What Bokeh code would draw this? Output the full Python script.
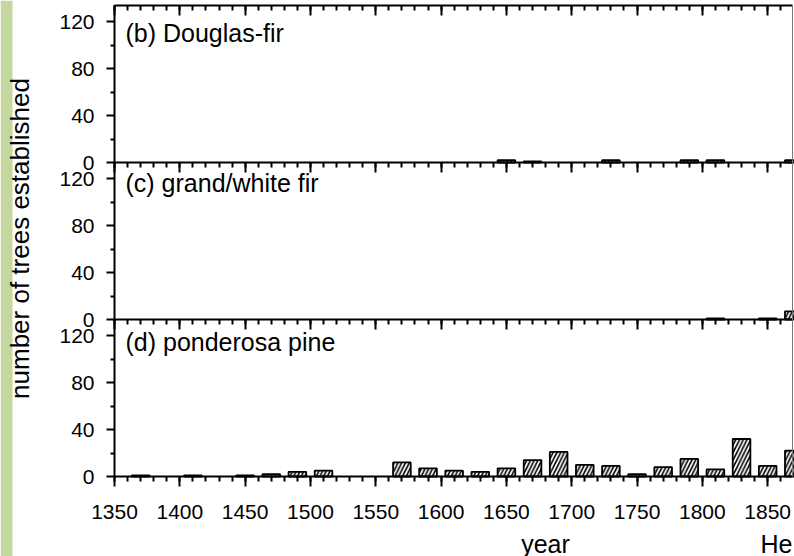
import math
from bokeh.plotting import figure
from bokeh.models import (Range1d, FixedTicker, LinearAxis, Label, BoxAnnotation,
                          CustomJSTickFormatter, GlobalInlineStyleSheet)
from bokeh.embed import file_html
from bokeh.resources import INLINE

# ---------------- data ----------------
years_b = [1650, 1670, 1730, 1790, 1810, 1870]
counts_b = [2, 1, 2, 2, 2, 2]

years_c = [1810, 1850, 1870]
counts_c = [1, 1, 7]

years_d = [1370, 1410, 1450, 1470, 1490, 1510, 1570, 1590, 1610, 1630,
           1650, 1670, 1690, 1710, 1730, 1750, 1770, 1790, 1810, 1830,
           1850, 1870]
counts_d = [1, 1, 1, 2, 4, 5, 12, 7, 5, 4,
            7, 14, 21, 10, 9, 2, 8, 15, 6, 32,
            9, 22]

panel_titles = ["(b) Douglas-fir", "(c) grand/white fir", "(d) ponderosa pine"]
x_major_ticks = list(range(1350, 1851, 50))
x_minor_ticks = list(range(1350, 1870, 10))
y_major_ticks = [0, 40, 80, 120]
y_minor_ticks = [20, 60, 100]
panel_span = 134
x_start, x_end = 1350, 1869
bar_width = 13.5

FONT = "Liberation Sans"
GREEN = "#c4d79e"

# ---------------- layout geometry (pixels) ----------------
W, H = 794, 556
plot_left, plot_right, plot_top, plot_bottom = 114, 792, 5, 476
sx = (plot_right - plot_left) / (x_end - x_start)
sy = (plot_bottom - plot_top) / (3 * panel_span)

p = figure(width=W, height=H,
           x_range=Range1d(x_start - plot_left / sx, x_end + (W - plot_right) / sx),
           y_range=Range1d(-(H - plot_bottom) / sy, 3 * panel_span + plot_top / sy),
           x_axis_type=None, y_axis_type=None,
           output_backend="svg", toolbar_location=None,
           min_border=0, min_border_left=0, min_border_right=0,
           min_border_top=0, min_border_bottom=0)
p.background_fill_color = "white"
p.border_fill_color = "white"
p.outline_line_color = None

# green strip at the left edge
p.add_layout(BoxAnnotation(left=0, right=12, left_units="screen", right_units="screen",
                           fill_color=GREEN, fill_alpha=1.0, line_color=None,
                           level="underlay"))

series = [(years_b, counts_b, 2), (years_c, counts_c, 1), (years_d, counts_d, 0)]
for yrs, cnts, k in series:
    off = k * panel_span
    p.vbar(x=yrs, width=bar_width,
           bottom=[off] * len(yrs), top=[off + c for c in cnts],
           fill_color="white", line_color="black", line_width=1.8,
           hatch_pattern="/", hatch_color="black", hatch_weight=1.6,
           hatch_scale=7.5)

# left axis spanning the three panels
yt, ym = [], []
for k in range(3):
    yt += [k * panel_span + t for t in y_major_ticks]
    ym += [k * panel_span + t for t in y_minor_ticks]
yaxis = LinearAxis(ticker=FixedTicker(ticks=yt, minor_ticks=ym),
                   formatter=CustomJSTickFormatter(args=dict(span=panel_span),
                                                   code="return String(Math.round(tick % span));"),
                   fixed_location=x_start, bounds=(0, 3 * panel_span),
                   major_label_text_font=FONT, major_label_text_font_size="21px",
                   major_label_text_color="black", major_label_standoff=12,
                   axis_line_width=2, axis_line_color="black",
                   major_tick_in=0, major_tick_out=8, major_tick_line_width=2,
                   minor_tick_in=0, minor_tick_out=4, minor_tick_line_width=2)
p.add_layout(yaxis, "left")

# right edge line
redge = LinearAxis(ticker=FixedTicker(ticks=[]), fixed_location=x_end,
                   bounds=(0, 3 * panel_span), axis_line_color="#777777",
                   axis_line_width=1, major_tick_out=0, minor_tick_out=0,
                   major_label_text_color=None)
p.add_layout(redge, "right")


def make_xaxis(loc, labels):
    ax = LinearAxis(ticker=FixedTicker(ticks=x_major_ticks, minor_ticks=x_minor_ticks),
                    fixed_location=loc, bounds=(x_start, x_end),
                    axis_line_width=2, axis_line_color="black",
                    major_tick_in=0, major_tick_out=10, major_tick_line_width=2,
                    minor_tick_in=0, minor_tick_out=5, minor_tick_line_width=2,
                    major_label_text_font=FONT, major_label_text_font_size="21px",
                    major_label_text_color="black" if labels else None,
                    major_label_standoff=18)
    return ax


p.add_layout(make_xaxis(0, True), "below")
for k in (1, 2, 3):
    p.add_layout(make_xaxis(k * panel_span, False), "below")

# texts (screen units from the bottom-left corner of the canvas)
title_y = [524, 374, 215]
for t, yy in zip(panel_titles, title_y):
    p.add_layout(Label(x=125, y=yy, x_units="screen", y_units="screen", text=t,
                       text_font=FONT, text_font_size="25px", text_color="black",
                       text_baseline="alphabetic", text_align="left"))

p.add_layout(Label(x=19, y=318, x_units="screen", y_units="screen",
                   text="number of trees established", angle=math.pi / 2,
                   text_font=FONT, text_font_size="26px", text_color="black",
                   text_baseline="alphabetic", text_align="center"))

p.add_layout(Label(x=545, y=13, x_units="screen", y_units="screen", text="year",
                   text_font=FONT, text_font_size="25px", text_color="black",
                   text_baseline="alphabetic", text_align="center"))
p.add_layout(Label(x=760, y=13, x_units="screen", y_units="screen", text="He",
                   text_font=FONT, text_font_size="25px", text_color="black",
                   text_baseline="alphabetic", text_align="left"))

p.stylesheets = [GlobalInlineStyleSheet(css="body { margin: 0; }")]

with open("out.html", "w") as f:
    f.write(file_html(p, INLINE))
